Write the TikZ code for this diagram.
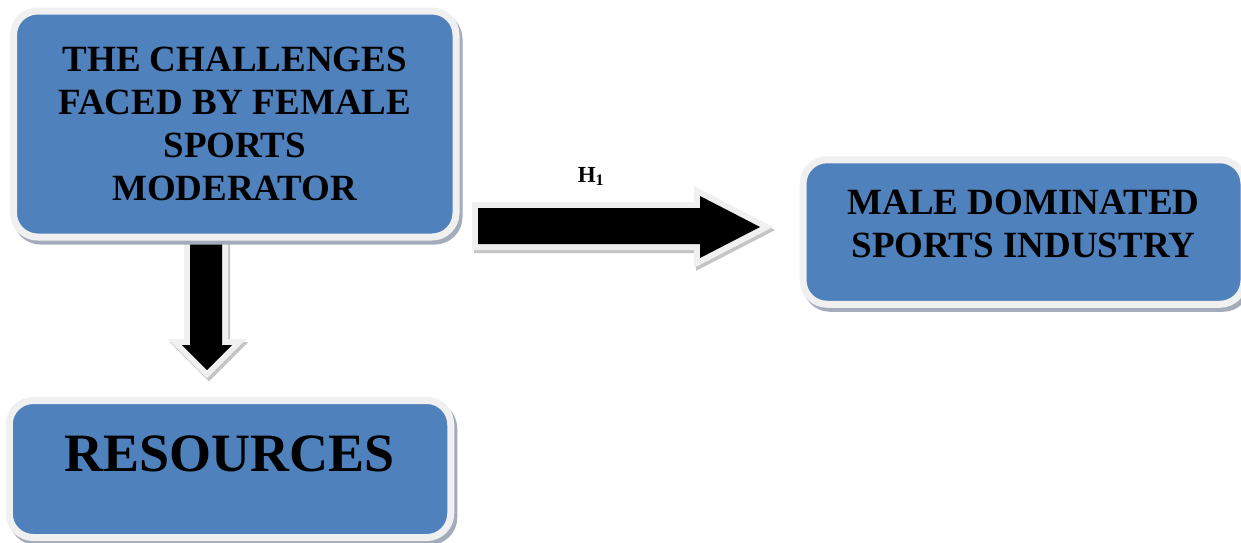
\documentclass[tikz,border=0pt]{standalone}
\usepackage{fontspec}
\setmainfont{Liberation Serif}
\definecolor{boxblue}{HTML}{4F81BD}
\definecolor{rimgray}{HTML}{F0F0F0}
\definecolor{shadowgray}{HTML}{A3ACBA}
\definecolor{arrowshade}{HTML}{C4C4C4}
\begin{document}
\begin{tikzpicture}[x=1pt,y=-1pt,
  box/.style={rounded corners=24pt, fill=boxblue, draw=rimgray, line width=7pt,
    inner sep=0pt, outer sep=0pt,
    preaction={draw=shadowgray, fill=shadowgray, line width=7pt,
      transform canvas={shift={(3pt,-4pt)}}}},
  boxtext/.style={font=\fontsize{37}{43}\selectfont\bfseries, align=center, text=black, inner sep=0pt},
  bigtext/.style={font=\fontsize{54}{60}\selectfont\bfseries, text=black, inner sep=0pt},
  blockarrow/.style={fill=black, line join=miter,
    preaction={draw=arrowshade, fill=arrowshade, line width=12pt, line join=miter,
      transform canvas={shift={(2pt,-3pt)}}},
    preaction={draw=rimgray, line width=12pt, line join=miter}}]
\useasboundingbox (0,0) rectangle (1241,542);
\fill[white] (0,0) rectangle (1241,542);

% vertical block arrow (drawn first; its top goes under the box rim)
\coordinate (va1) at (190,243);
\coordinate (va2) at (222,243);
\coordinate (va3) at (222,345);
\coordinate (va4) at (232,345);
\coordinate (va5) at (207,370);
\coordinate (va6) at (182,345);
\coordinate (va7) at (190,345);
\path[blockarrow] (va1) -- (va2) -- (va3) -- (va4) -- (va5) -- (va6) -- (va7) -- cycle;

% boxes
\node[box, minimum width=442.5pt, minimum height=226pt] (challenges) at (234.75,124)
  {\parbox{440pt}{\centering\fontsize{37}{43}\selectfont\bfseries THE CHALLENGES\\ FACED BY FEMALE\\ SPORTS\\ MODERATOR}};
\node[box, minimum width=441pt, minimum height=144.5pt] (male) at (1023.5,232) {};
\node[boxtext] (maletext) at ([yshift=8.5pt]male.center) {MALE DOMINATED\\ SPORTS INDUSTRY};
\node[box, minimum width=441.5pt, minimum height=137pt] (resources) at (230,469) {};
\node[bigtext] (restext) at ([yshift=15.5pt]resources.center) {RESOURCES};

% horizontal block arrow
\coordinate (ha1) at (478,208);
\coordinate (ha2) at (700,208);
\coordinate (ha3) at (700,196);
\coordinate (ha4) at (760,227);
\coordinate (ha5) at (700,258);
\coordinate (ha6) at (700,244);
\coordinate (ha7) at (478,244);
\path[blockarrow] (ha1) -- (ha2) -- (ha3) -- (ha4) -- (ha5) -- (ha6) -- (ha7) -- cycle;

\node[font=\fontsize{23}{26}\selectfont\bfseries, anchor=base, inner sep=0pt] (h1) at (591,182) {H\textsubscript{1}};
\end{tikzpicture}
\end{document}
